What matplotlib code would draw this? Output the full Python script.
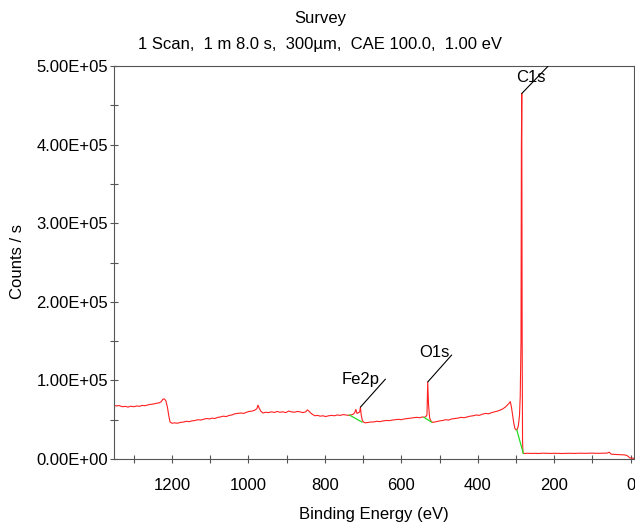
import matplotlib
matplotlib.use('Agg')
import matplotlib.pyplot as plt
from matplotlib.ticker import MultipleLocator, FuncFormatter

plt.rcParams['font.family'] = ['Liberation Sans', 'DejaVu Sans']

# survey spectrum: (binding energy eV, counts/s)
spectrum = [
    (1353, 6.85e4), (1345, 6.75e4), (1338, 6.8e4), (1330, 6.65e4), (1322, 6.7e4),
    (1315, 6.6e4), (1308, 6.72e4), (1300, 6.65e4), (1292, 6.75e4), (1285, 6.7e4),
    (1278, 6.82e4), (1270, 6.78e4), (1262, 6.9e4), (1255, 6.95e4), (1248, 7.0e4),
    (1240, 7.1e4), (1233, 7.15e4), (1228, 7.3e4), (1224, 7.6e4), (1220, 7.65e4),
    (1216, 7.4e4), (1212, 6.6e4), (1208, 5.4e4), (1205, 4.7e4), (1200, 4.55e4),
    (1193, 4.6e4), (1186, 4.55e4), (1178, 4.65e4), (1170, 4.7e4), (1162, 4.8e4),
    (1155, 4.75e4), (1148, 4.85e4), (1140, 4.9e4), (1132, 5.0e4), (1125, 4.95e4),
    (1118, 5.05e4), (1110, 5.15e4), (1102, 5.1e4), (1095, 5.2e4), (1088, 5.15e4),
    (1080, 5.3e4), (1073, 5.35e4), (1066, 5.45e4), (1058, 5.4e4), (1050, 5.55e4),
    (1043, 5.6e4), (1036, 5.75e4), (1028, 5.8e4), (1020, 5.85e4), (1012, 5.8e4),
    (1005, 5.95e4), (998, 6.05e4), (990, 6.1e4), (984, 6.2e4), (978, 6.4e4),
    (975, 6.85e4), (972, 6.5e4), (968, 6.1e4), (962, 5.85e4), (955, 5.95e4),
    (948, 5.9e4), (940, 6.0e4), (932, 5.92e4), (925, 6.05e4), (918, 5.95e4),
    (910, 6.0e4), (902, 5.9e4), (895, 6.1e4), (888, 6.0e4), (880, 5.95e4),
    (872, 6.05e4), (865, 6.0e4), (858, 5.9e4), (850, 6.0e4), (846, 6.25e4),
    (842, 6.1e4), (836, 5.8e4), (830, 5.6e4), (826, 5.5e4), (820, 5.55e4),
    (812, 5.45e4), (805, 5.5e4), (798, 5.4e4), (790, 5.5e4), (782, 5.55e4),
    (775, 5.5e4), (768, 5.6e4), (760, 5.55e4), (752, 5.65e4), (745, 5.6e4),
    (738, 5.55e4), (732, 5.6e4), (726, 5.7e4), (722, 5.9e4), (719, 6.3e4),
    (716, 5.8e4), (712, 5.9e4), (709, 6.0e4), (707, 6.6e4), (705, 5.6e4),
    (702, 4.9e4), (699, 4.7e4), (694, 4.6e4), (688, 4.65e4), (680, 4.7e4),
    (672, 4.72e4), (664, 4.8e4), (656, 4.75e4), (648, 4.85e4), (640, 4.9e4),
    (632, 4.88e4), (624, 4.95e4), (616, 5.0e4), (608, 5.05e4), (600, 5.0e4),
    (592, 5.1e4), (584, 5.15e4), (576, 5.2e4), (568, 5.25e4), (560, 5.3e4),
    (552, 5.25e4), (545, 5.35e4), (540, 5.3e4), (536, 5.4e4), (533, 5.6e4),
    (531, 9.8e4), (529, 7.0e4), (526, 5.2e4), (522, 4.8e4), (518, 4.65e4),
    (514, 4.7e4), (508, 4.75e4), (500, 4.85e4), (492, 4.9e4), (484, 5.0e4),
    (476, 4.95e4), (468, 5.1e4), (460, 5.15e4), (452, 5.2e4), (444, 5.3e4),
    (436, 5.25e4), (428, 5.35e4), (420, 5.45e4), (412, 5.5e4), (404, 5.6e4),
    (396, 5.55e4), (388, 5.7e4), (380, 5.8e4), (372, 5.75e4), (364, 5.9e4),
    (356, 6.0e4), (348, 6.1e4), (340, 6.25e4), (334, 6.4e4), (328, 6.6e4),
    (322, 6.9e4), (318, 7.1e4), (315, 7.3e4), (312, 6.6e4), (309, 5.6e4),
    (306, 4.6e4), (303, 3.9e4), (300, 3.7e4), (297, 3.75e4), (294, 4.2e4),
    (291, 5.5e4), (289, 8.0e4), (287, 1.5e5), (286, 3.95e5), (285, 4.65e5),
    (284, 1.6e5), (283, 2.5e4), (282, 9.0e3), (281, 7.2e3), (278, 7.0e3),
    (270, 7.3e3), (260, 7.1e3), (250, 7.2e3), (240, 7.0e3), (230, 7.4e3),
    (220, 7.2e3), (210, 7.1e3), (200, 7.3e3), (190, 7.2e3), (180, 7.0e3),
    (170, 7.2e3), (160, 7.3e3), (150, 7.1e3), (140, 7.2e3), (130, 7.4e3),
    (120, 7.2e3), (110, 7.3e3), (100, 7.5e3), (90, 7.2e3), (80, 7.3e3),
    (70, 7.4e3), (62, 7.5e3), (56, 8.6e3), (52, 6.5e3), (48, 6.0e3),
    (40, 5.8e3), (32, 5.6e3), (24, 5.4e3), (16, 5.2e3), (10, 4.5e3),
    (6, 3.0e3), (3, 1.5e3), (0, 1.2e3), (-4, 1.0e3), (-8, 1.0e3),
]
energy = [p[0] for p in spectrum]
counts = [p[1] for p in spectrum]

# peak backgrounds (green)
fe_bg_e = [736, 703]
fe_bg_c = [5.6e4, 4.7e4]
o_bg_e = [541, 521]
o_bg_c = [5.3e4, 4.7e4]
c_bg_e = [298, 281]
c_bg_c = [3.7e4, 7.2e3]

# peak labels
peak_names = ['Fe2p', 'O1s', 'C1s']
peak_e = [707, 531, 285]
peak_c = [6.6e4, 9.8e4, 4.65e5]
text_off = [(0, 28), (7, 29), (9, 16)]
line_off = [(25, 28), (24, 27), (26, 27)]

fig = plt.figure(figsize=(6.35, 5.26), dpi=100)
ax = fig.add_axes([113.5/635, 1 - 459/526, (634 - 113.5)/635, (459 - 66)/526])

ax.plot(energy, counts, color='#ff2020', lw=0.8)
for e, c in [(fe_bg_e, fe_bg_c), (o_bg_e, o_bg_c), (c_bg_e, c_bg_c)]:
    ax.plot(e, c, color='#22dd22', lw=0.9)

for name, e, c, t, l in zip(peak_names, peak_e, peak_c, text_off, line_off):
    ax.annotate('', xy=(e, c), xytext=l, textcoords='offset pixels',
                arrowprops=dict(arrowstyle='-', color='black', lw=0.8,
                                shrinkA=0, shrinkB=0))
    ax.annotate(name, xy=(e, c), xytext=t, textcoords='offset pixels',
                ha='center', va='center', fontsize=12)

ax.set_xlim(1353, -8.6)
ax.set_ylim(0, 5e5)
ax.xaxis.set_major_locator(MultipleLocator(200))
ax.xaxis.set_minor_locator(MultipleLocator(100))
ax.yaxis.set_major_locator(MultipleLocator(1e5))
ax.yaxis.set_minor_locator(MultipleLocator(5e4))
ax.yaxis.set_major_formatter(FuncFormatter(lambda v, p: f'{v:.2E}'))

for s in ax.spines.values():
    s.set_color('#555555')
ax.tick_params(which='both', direction='inout', length=6, width=0.8, color='#555555',
               labelsize=12)
ax.tick_params(axis='x', which='both', pad=11)
ax.tick_params(axis='y', which='both', pad=1)

fig.text(18/635, 1 - 262/526, 'Counts / s', rotation=90, ha='center', va='center',
         fontsize=12)
fig.text(373.5/635, 1 - 515/526, 'Binding Energy (eV)', ha='center', va='center',
         fontsize=12)
fig.text(320/635, 1 - 19/526, 'Survey', ha='center', va='center', fontsize=12)
fig.text(320/635, 1 - 45/526, '1 Scan,  1 m 8.0 s,  300µm,  CAE 100.0,  1.00 eV',
         ha='center', va='center', fontsize=12)

fig.savefig('out.png', dpi=100)
